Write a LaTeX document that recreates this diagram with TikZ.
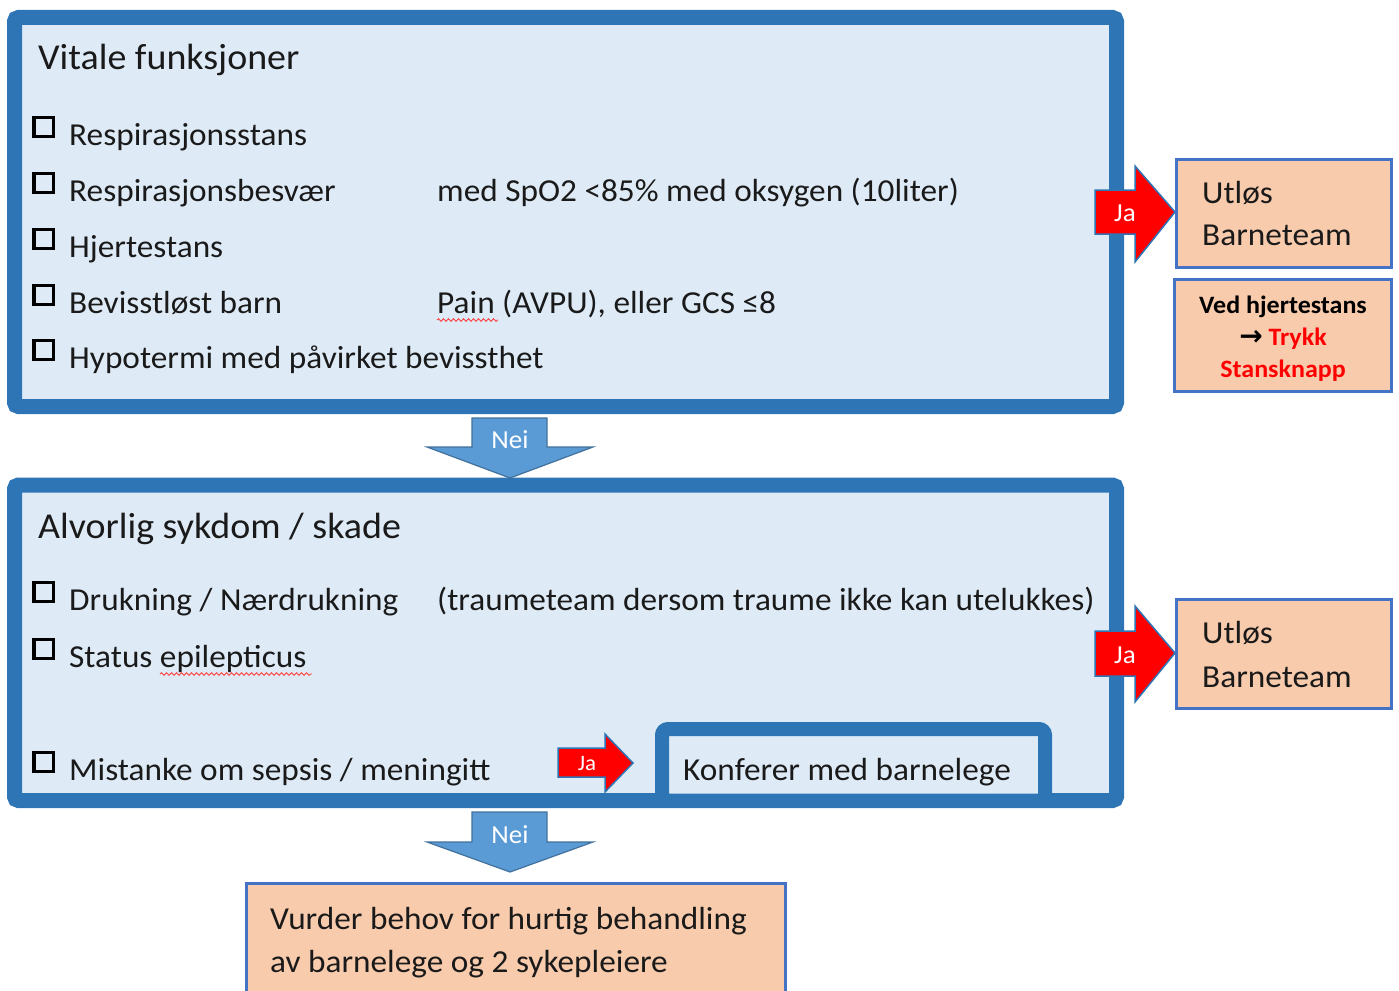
\documentclass[tikz,border=0pt]{standalone}
\usepackage{fontspec}
\setmainfont{Carlito}[FakeStretch=1.04]
\newfontfamily\dejavu{DejaVu Sans}
\usetikzlibrary{decorations.pathmorphing}
\definecolor{bblue}{HTML}{2E75B6}
\definecolor{lfill}{HTML}{DEEBF7}
\definecolor{peach}{HTML}{F8CBAD}
\definecolor{sblue}{HTML}{4472C4}
\definecolor{neifill}{HTML}{5B9BD5}
\definecolor{neiline}{HTML}{41719C}
\definecolor{txt}{HTML}{1A1A1A}
\tikzset{
  bigbox/.style={draw=bblue, line width=15pt, fill=lfill, rounded corners=4pt},
  peachbox/.style={draw=sblue, line width=3pt, fill=peach},
  itemtext/.style={anchor=base west, inner sep=0pt, text=txt, font=\fontsize{32}{38}\selectfont},
  titletext/.style={anchor=base west, inner sep=0pt, text=txt, font=\fontsize{36.5}{42}\selectfont},
  chk/.style={draw=black, line width=3.5pt, minimum width=19.5pt, minimum height=19pt, inner sep=0pt},
  jaarrow/.style={fill=red, draw=bblue, line width=1.5pt, line join=miter},
  neiarrow/.style={fill=neifill, draw=neiline, line width=1.2pt},
  lbl/.style={text=white, inner sep=0pt, font=\fontsize{26}{28}\selectfont},
  wavy/.style={draw=red!75, line width=0.9pt, decorate, decoration={snake, amplitude=1.3pt, segment length=5pt}},
  vedtext/.style={anchor=base, inner sep=0pt, font=\bfseries\fontsize{25}{30}\selectfont}
}
\begin{document}
\begin{tikzpicture}[x=1pt,y=-1pt]
\useasboundingbox (0,0) rectangle (1399,990);
\clip (0,0) rectangle (1399,990);
\fill[white] (0,0) rectangle (1399,990);

% ---------- Box 1 ----------
\draw[bigbox] (14.5,17.5) rectangle (1116.5,406.5);
\node[titletext] (t1) at (38,70) {Vitale funksjoner};
\node[chk] (c1) at (43.5,127) {};
\node[itemtext] (i1) at (69,145) {Respirasjonsstans};
\node[chk] (c2) at (43.5,183) {};
\node[itemtext] (i2) at (69,201) {Respirasjonsbesvær};
\node[itemtext] (r2) at (437,201) {med SpO2 <85\% med oksygen (10liter)};
\node[chk] (c3) at (43.5,239) {};
\node[itemtext] (i3) at (69,257) {Hjertestans};
\node[chk] (c4) at (43.5,295) {};
\node[itemtext] (i4) at (69,313) {Bevisstløst barn};
\node[itemtext] (r4) at (437,313) {Pain (AVPU), eller GCS ≤8};
\draw[wavy] (437,320) -- (498,320);
\node[chk] (c5) at (43.5,350) {};
\node[itemtext] (i5) at (69,368) {Hypotermi med påvirket bevissthet};

% ---------- Box 2 ----------
\draw[bigbox] (14.5,485) rectangle (1116.5,800.5);
\node[titletext] (t2) at (38,538) {Alvorlig sykdom / skade};
\node[chk] (d1) at (43.5,592) {};
\node[itemtext] (j1) at (69,610) {Drukning / Nærdrukning};
\node[itemtext] (s1) at (437,610) {(traumeteam dersom traume ikke kan utelukkes)};
\node[chk] (d2) at (43.5,649) {};
\node[itemtext] (j2) at (69,667) {Status epilepticus};
\draw[wavy] (160,674) -- (312,674);
\node[chk] (d3) at (43.5,762) {};
\node[itemtext] (j3) at (69,780) {Mistanke om sepsis / meningitt};

% Konferer box
\draw[draw=bblue, line width=14pt, fill=lfill, rounded corners=6pt] (662,729) rectangle (1045,800.5);
\node[itemtext] (kon) at (683,780) {Konferer med barnelege};

% small Ja arrow
\draw[jaarrow] (558,748) -- (605,748) -- (605,734) -- (633,763) -- (605,792) -- (605,777) -- (558,777) -- cycle;
\node[lbl, font=\fontsize{22}{24}\selectfont] (ja3) at (587,764) {Ja};

% ---------- Right side ----------
\draw[jaarrow] (1095,190) -- (1135,190) -- (1135,166) -- (1175,212) -- (1135,262) -- (1135,234) -- (1095,234) -- cycle;
\node[lbl] (ja1) at (1125,213) {Ja};
\draw[peachbox] (1176.5,159.5) rectangle (1391.5,267);
\node[itemtext] (u1a) at (1202,203) {Utløs};
\node[itemtext] (u1b) at (1202,245) {Barneteam};

\draw[peachbox] (1174.5,279) rectangle (1391.5,391);
\node[vedtext] (v1) at (1283,313) {Ved hjertestans};
\node[vedtext] (v2) at (1283,345) {{\dejavu\bfseries\fontsize{28}{30}\selectfont →} \textcolor{red}{Trykk}};
\node[vedtext, text=red] (v3) at (1283,377) {Stansknapp};

\draw[jaarrow] (1095,631) -- (1135,631) -- (1135,606) -- (1175,653) -- (1135,702) -- (1135,676) -- (1095,676) -- cycle;
\node[lbl] (ja2) at (1125,655) {Ja};
\draw[peachbox] (1176.5,599) rectangle (1391.5,708.5);
\node[itemtext] (u2a) at (1202,643) {Utløs};
\node[itemtext] (u2b) at (1202,687) {Barneteam};

% ---------- Nei arrows ----------
\draw[neiarrow] (472,418) -- (547,418) -- (547,447) -- (593,447) -- (510,478) -- (427,447) -- (472,447) -- cycle;
\node[lbl] (n1) at (510,440) {Nei};
\draw[neiarrow] (472,812) -- (547,812) -- (547,842) -- (593,842) -- (510,872) -- (427,842) -- (472,842) -- cycle;
\node[lbl] (n2) at (510,835) {Nei};

% ---------- Bottom box ----------
\draw[peachbox] (246.5,883.5) rectangle (785.5,1000);
\node[itemtext] (w1) at (270,929) {Vurder behov for hurtig behandling};
\node[itemtext] (w2) at (270,972) {av barnelege og 2 sykepleiere};
\end{tikzpicture}
\end{document}
